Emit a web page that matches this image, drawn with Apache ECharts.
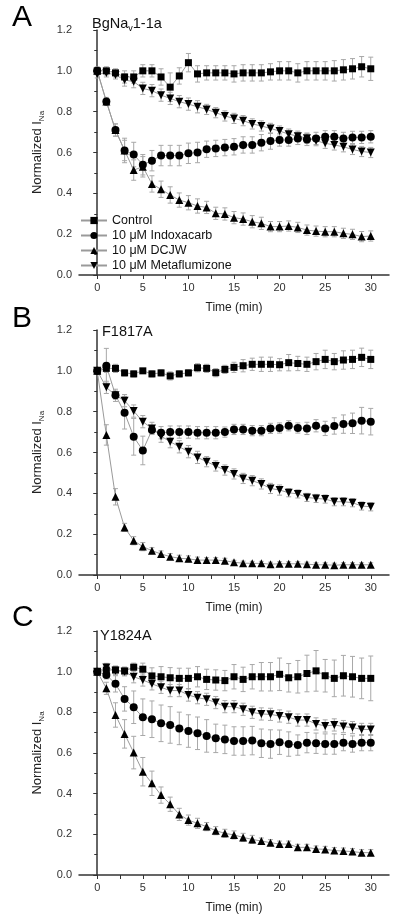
<!DOCTYPE html>
<html><head><meta charset="utf-8">
<script src="https://cdn.jsdelivr.net/npm/echarts@6/dist/echarts.min.js"></script>
<style>html,body{margin:0;padding:0;background:#fff}#c{width:400px;height:920px}</style>
</head><body><div id="c"></div>
<script>
// ---------- data ----------
const times = [0,1,2,3,4,5,6,7,8,9,10,11,12,13,14,15,16,17,18,19,20,21,22,23,24,25,26,27,28,29,30];
const seriesNames = ['Control', '10 \u03bcM Indoxacarb', '10 \u03bcM DCJW', '10 \u03bcM Metaflumizone'];
const panelLetters = ['A', 'B', 'C'];
const panelTitles = ['BgNa{sub|v}1-1a', 'F1817A', 'Y1824A'];
const xTickLabels = [0, 5, 10, 15, 20, 25, 30];
const xTickMarks = [0, 2.5, 5, 7.5, 10, 12.5, 15, 17.5, 20, 22.5, 25, 27.5, 30];
const yTickLabels = [0.0, 0.2, 0.4, 0.6, 0.8, 1.0, 1.2];

// Panel A: BgNav1-1a
const aControl = [1.0,1.0,0.99,0.97,0.97,1.0,1.0,0.97,0.92,0.975,1.04,0.985,0.99,0.99,0.99,0.985,0.99,0.99,0.99,0.995,1.0,1.0,0.99,1.0,1.0,1.0,1.0,1.005,1.01,1.02,1.01];
const aControlErr = [0.02,0.02,0.02,0.03,0.03,0.03,0.03,0.04,0.07,0.04,0.045,0.04,0.035,0.035,0.035,0.04,0.04,0.04,0.04,0.04,0.045,0.045,0.045,0.045,0.045,0.045,0.05,0.05,0.05,0.05,0.057];
const aIndox = [1.0,0.85,0.71,0.61,0.59,0.54,0.56,0.585,0.585,0.585,0.596,0.60,0.616,0.62,0.624,0.628,0.637,0.637,0.648,0.656,0.661,0.661,0.669,0.664,0.669,0.677,0.677,0.669,0.674,0.674,0.677];
const aIndoxErr = [0.01,0.01,0.03,0.06,0.06,0.05,0.05,0.05,0.05,0.05,0.05,0.05,0.04,0.04,0.04,0.04,0.04,0.04,0.04,0.04,0.03,0.03,0.03,0.03,0.03,0.03,0.03,0.03,0.03,0.03,0.03];
const aDcjw = [1.0,0.85,0.71,0.61,0.514,0.53,0.446,0.42,0.392,0.367,0.354,0.338,0.331,0.302,0.299,0.281,0.274,0.261,0.253,0.237,0.237,0.24,0.233,0.22,0.215,0.212,0.212,0.204,0.199,0.188,0.191];
const aDcjwErr = [0.01,0.02,0.03,0.05,0.05,0.05,0.04,0.04,0.04,0.035,0.035,0.035,0.03,0.03,0.03,0.03,0.03,0.03,0.03,0.025,0.025,0.025,0.025,0.025,0.025,0.025,0.025,0.025,0.025,0.025,0.025];
const aMeta = [0.985,0.99,0.98,0.955,0.947,0.914,0.903,0.881,0.865,0.849,0.837,0.824,0.811,0.795,0.779,0.767,0.756,0.74,0.73,0.718,0.705,0.69,0.68,0.67,0.658,0.645,0.637,0.628,0.615,0.605,0.60];
const aMetaErr = [0.02,0.02,0.02,0.03,0.03,0.03,0.03,0.03,0.03,0.03,0.03,0.03,0.025,0.025,0.025,0.025,0.025,0.025,0.025,0.025,0.025,0.025,0.025,0.025,0.025,0.025,0.025,0.025,0.025,0.025,0.025];

// Panel B: F1817A
const bControl = [1.0,1.012,1.012,0.99,0.985,1.0,0.985,0.99,0.975,0.985,0.99,1.015,1.012,0.991,1.007,1.017,1.025,1.032,1.032,1.032,1.03,1.04,1.036,1.032,1.045,1.056,1.045,1.053,1.056,1.066,1.056];
const bControlErr = [0.01,0.02,0.02,0.015,0.015,0.01,0.015,0.015,0.02,0.015,0.015,0.02,0.02,0.02,0.02,0.025,0.03,0.03,0.035,0.035,0.03,0.04,0.035,0.035,0.04,0.045,0.04,0.045,0.045,0.045,0.045];
const bIndox = [1.0,1.025,0.881,0.795,0.677,0.61,0.71,0.697,0.70,0.70,0.70,0.697,0.697,0.697,0.70,0.713,0.713,0.707,0.707,0.718,0.72,0.731,0.72,0.718,0.731,0.718,0.73,0.739,0.743,0.756,0.751];
const bIndoxErr = [0.01,0.085,0.02,0.08,0.09,0.07,0.02,0.03,0.03,0.03,0.03,0.03,0.03,0.03,0.025,0.025,0.025,0.025,0.025,0.025,0.025,0.025,0.025,0.03,0.03,0.035,0.04,0.045,0.05,0.065,0.065];
const bDcjw = [1.0,0.686,0.383,0.233,0.168,0.139,0.119,0.103,0.09,0.082,0.079,0.073,0.073,0.073,0.07,0.062,0.058,0.057,0.057,0.053,0.055,0.055,0.055,0.053,0.05,0.05,0.048,0.05,0.05,0.05,0.05];
const bDcjwErr = [0.005,0.05,0.04,0.02,0.02,0.02,0.015,0.015,0.015,0.015,0.015,0.015,0.012,0.012,0.012,0.01,0.01,0.01,0.01,0.01,0.01,0.01,0.01,0.01,0.01,0.01,0.01,0.01,0.01,0.01,0.01];
const bMeta = [1.0,0.919,0.88,0.854,0.803,0.751,0.718,0.68,0.653,0.628,0.604,0.576,0.555,0.534,0.514,0.495,0.473,0.462,0.446,0.424,0.416,0.403,0.397,0.38,0.375,0.372,0.359,0.359,0.354,0.338,0.334];
const bMetaErr = [0.01,0.03,0.03,0.03,0.03,0.03,0.03,0.03,0.03,0.03,0.03,0.03,0.025,0.025,0.025,0.025,0.025,0.025,0.025,0.025,0.025,0.02,0.02,0.02,0.02,0.02,0.02,0.02,0.02,0.02,0.02];

// Panel C: Y1824A
const cControl = [1.0,1.008,1.008,1.003,1.022,1.012,0.979,0.975,0.97,0.967,0.967,0.975,0.962,0.959,0.956,0.975,0.962,0.975,0.975,0.975,0.987,0.97,0.975,0.991,1.004,0.98,0.967,0.98,0.975,0.967,0.967];
const cControlErr = [0.01,0.02,0.02,0.02,0.02,0.03,0.04,0.05,0.05,0.05,0.05,0.05,0.05,0.05,0.05,0.06,0.06,0.06,0.07,0.07,0.08,0.07,0.08,0.09,0.1,0.08,0.09,0.1,0.1,0.1,0.11];
const cIndox = [1.0,0.984,0.94,0.866,0.825,0.776,0.766,0.746,0.738,0.721,0.708,0.697,0.684,0.672,0.667,0.659,0.659,0.661,0.648,0.644,0.653,0.644,0.639,0.651,0.648,0.644,0.644,0.651,0.644,0.651,0.651];
const cIndoxErr = [0.005,0.02,0.04,0.06,0.08,0.09,0.09,0.09,0.09,0.08,0.08,0.08,0.08,0.07,0.07,0.07,0.07,0.07,0.07,0.07,0.06,0.06,0.05,0.05,0.05,0.05,0.05,0.04,0.04,0.04,0.04];
const cDcjw = [1.0,0.918,0.787,0.694,0.602,0.508,0.451,0.393,0.348,0.298,0.27,0.254,0.238,0.218,0.205,0.197,0.185,0.175,0.167,0.159,0.152,0.152,0.136,0.136,0.128,0.126,0.12,0.118,0.115,0.11,0.11];
const cDcjwErr = [0.005,0.03,0.06,0.07,0.08,0.07,0.06,0.04,0.035,0.03,0.025,0.025,0.02,0.02,0.02,0.02,0.02,0.02,0.015,0.015,0.015,0.015,0.015,0.015,0.015,0.015,0.015,0.015,0.015,0.015,0.015];
const cMeta = [1.0,1.021,1.005,0.999,0.975,0.959,0.94,0.923,0.907,0.907,0.885,0.872,0.864,0.848,0.828,0.828,0.815,0.80,0.792,0.79,0.782,0.776,0.762,0.762,0.743,0.733,0.738,0.73,0.725,0.716,0.716];
const cMetaErr = [0.01,0.02,0.02,0.02,0.03,0.03,0.03,0.03,0.03,0.03,0.03,0.03,0.03,0.03,0.03,0.03,0.03,0.03,0.03,0.03,0.03,0.03,0.03,0.03,0.03,0.03,0.03,0.03,0.03,0.03,0.03];

// ---------- layout / style ----------
const FONT = 'Liberation Sans, Arial, sans-serif';
const panelValues = [[aControl,aIndox,aDcjw,aMeta],[bControl,bIndox,bDcjw,bMeta],[cControl,cIndox,cDcjw,cMeta]];
const panelErrors = [[aControlErr,aIndoxErr,aDcjwErr,aMetaErr],[bControlErr,bIndoxErr,bDcjwErr,bMetaErr],[cControlErr,cIndoxErr,cDcjwErr,cMetaErr]];
const gridTops = [30, 330, 631];
const gridHeights = [245, 245, 244];
const letterY = [20, 321, 620];
const titlePos = [[92, 16], [102, 324], [100, 628]];
const symbols = [
  {symbol: 'rect', size: 7, rotate: 0},
  {symbol: 'circle', size: 8, rotate: 0},
  {symbol: 'triangle', size: 8, rotate: 0},
  {symbol: 'triangle', size: 8, rotate: 180}
];

const grids = [], xAxes = [], yAxes = [], series = [], titles = [], graphics = [];
const axisColor = '#333';

panelValues.forEach((vals, p) => {
  grids.push({left: 79, top: gridTops[p], width: 310, height: gridHeights[p], containLabel: false});
  xAxes.push({
    type: 'value', gridIndex: p, min: -2, max: 32,
    name: 'Time (min)', nameLocation: 'middle', nameGap: 27,
    nameTextStyle: {fontFamily: FONT, fontSize: 12, color: '#222'},
    axisLine: {show: true, lineStyle: {color: axisColor, width: 1.5}},
    axisTick: {show: true, length: 4, inside: false, customValues: xTickMarks, lineStyle: {color: axisColor, width: 1}},
    axisLabel: {customValues: xTickLabels, fontFamily: FONT, fontSize: 11, color: '#333', margin: 7},
    splitLine: {show: false}
  });
  yAxes.push({
    type: 'value', gridIndex: p, min: 0, max: 1.2, interval: 0.2,
    name: 'Normalized I{sub|Na}', nameLocation: 'middle', nameGap: 24,
    nameTextStyle: {fontFamily: FONT, fontSize: 13, color: '#222',
      rich: {sub: {fontFamily: FONT, fontSize: 8, color: '#222', verticalAlign: 'bottom', padding: [0, 0, -2, 0]}}},
    axisLine: {show: true, lineStyle: {color: axisColor, width: 1.5}},
    axisTick: {show: true, length: 4, lineStyle: {color: axisColor, width: 1}},
    minorTick: {show: true, splitNumber: 2, length: 3, lineStyle: {color: axisColor, width: 1}},
    axisLabel: {fontFamily: FONT, fontSize: 11, color: '#333', margin: 7, formatter: v => v.toFixed(1)},
    splitLine: {show: false}, minorSplitLine: {show: false}
  });
  vals.forEach((arr, s) => {
    const errs = panelErrors[p][s];
    series.push({
      type: 'custom', xAxisIndex: p, yAxisIndex: p, z: 1, silent: true,
      data: times.map((t, i) => [t, arr[i] - errs[i], arr[i] + errs[i]]),
      encode: {x: 0, y: [1, 2]},
      renderItem: (params, api) => {
        const x = api.value(0);
        const top = api.coord([x, api.value(2)]);
        const bot = api.coord([x, api.value(1)]);
        const w = 2.5;
        const st = {stroke: '#a8a8a8', lineWidth: 1};
        return {type: 'group', children: [
          {type: 'line', shape: {x1: top[0], y1: top[1], x2: bot[0], y2: bot[1]}, style: st},
          {type: 'line', shape: {x1: top[0] - w, y1: top[1], x2: top[0] + w, y2: top[1]}, style: st},
          {type: 'line', shape: {x1: bot[0] - w, y1: bot[1], x2: bot[0] + w, y2: bot[1]}, style: st}
        ]};
      }
    });
  });
  vals.forEach((arr, s) => {
    series.push({
      type: 'line', name: seriesNames[s], xAxisIndex: p, yAxisIndex: p, z: 3,
      data: times.map((t, i) => [t, arr[i]]),
      symbol: symbols[s].symbol, symbolSize: symbols[s].size, symbolRotate: symbols[s].rotate,
      showSymbol: true, showAllSymbol: true,
      itemStyle: {color: '#000', borderWidth: 0},
      lineStyle: {color: '#9a9a9a', width: 1},
      emphasis: {disabled: true}
    });
  });
  titles.push({
    text: panelTitles[p], left: titlePos[p][0], top: titlePos[p][1], padding: 0,
    textStyle: {fontFamily: FONT, fontSize: 14.5, fontWeight: 'normal', color: '#111',
      rich: {sub: {fontFamily: FONT, fontSize: 9, color: '#111', verticalAlign: 'bottom', padding: [0, 0, -2, 0]}}}
  });
  graphics.push({
    type: 'text', left: 12, top: letterY[p] - 17,
    style: {text: panelLetters[p], fontFamily: FONT, fontSize: 30, fill: '#000'}
  });
});

const chart = echarts.init(document.getElementById('c'), null, {renderer: 'canvas'});
chart.setOption({
  animation: false,
  backgroundColor: '#fff',
  title: titles,
  graphic: graphics,
  grid: grids,
  xAxis: xAxes,
  yAxis: yAxes,
  legend: {
    data: seriesNames, orient: 'vertical', left: 80, top: 214, padding: 0,
    itemWidth: 26, itemHeight: 9, itemGap: 2,
    textStyle: {fontFamily: FONT, fontSize: 12.5, color: '#111'},
    selectedMode: false
  },
  series: series
});
</script></body></html>
